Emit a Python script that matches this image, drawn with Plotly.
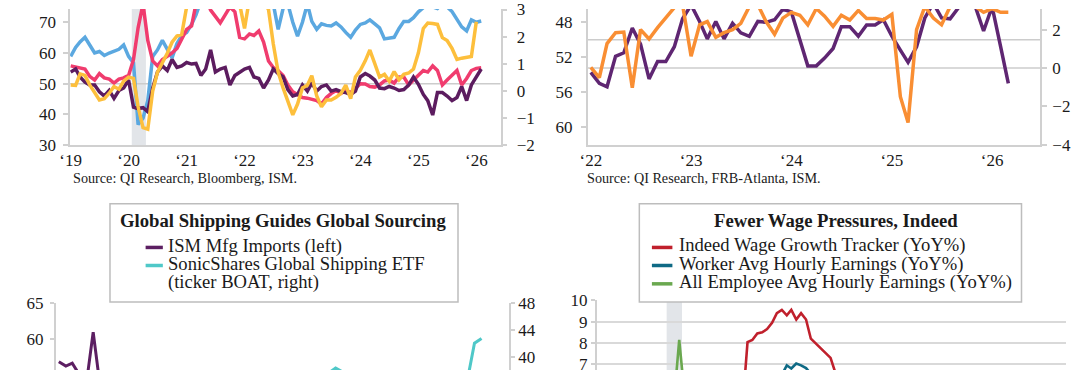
import plotly.graph_objects as go
import pandas as pd

W, H = 1080, 380
FONT = "Liberation Serif"
AX = "#d0d0d0"
TXT = "#1a1a1a"

# ---------------- data ----------------
# Top-left panel (monthly, Jan 2019 - Feb 2026)
tl_months = pd.date_range("2019-01-01", periods=86, freq="MS")
tl_purple = [53.8, 54.8, 52.2, 50.5, 49.6, 49.6, 47.4, 46.0, 47.8, 45.2, 47.8, 48.6,
             51.2, 42.4, 41.9, 42.2, 40.9, 48.6, 53.8, 55.8, 54.3, 57.9, 55.3, 55.8,
             56.9, 56.4, 56.6, 52.7, 54.8, 61.0, 53.8, 54.8, 55.3, 49.6, 52.7, 53.8,
             54.8, 55.3, 52.2, 51.7, 48.6, 51.2, 54.8, 53.3, 52.2, 48.1, 46.0, 46.5,
             49.6, 47.6, 50.2, 47.6, 49.1, 49.6, 47.6, 48.1, 47.4, 47.1, 46.5, 47.6,
             52.2, 53.3, 52.5, 51.2, 48.6, 48.4, 49.1, 48.6, 47.8, 48.1, 49.6, 52.2,
             49.8, 46.5, 44.5, 39.8, 47.1, 47.1, 46.0, 44.5, 45.5, 49.1, 44.5, 49.6,
             52.2, 54.8]
tl_pink = [55.8, 55.5, 55.3, 54.8, 52.4, 51.2, 53.3, 51.9, 51.5, 50.2, 51.5, 51.9,
           52.7, 57.9, 68.2, 76.0, 64.1, 57.4, 55.8, 57.9, 58.9, 60.0, 61.5, 64.6,
           67.7, 68.8, 76.0, 76.5, 78.0, 74.0, 72.0, 69.8, 72.4, 75.0, 73.4, 65.1,
           64.6, 66.2, 65.7, 67.2, 63.6, 57.4, 55.3, 54.3, 52.7, 49.6, 47.4, 46.3,
           45.5, 45.3, 45.0, 44.5, 43.4, 45.5, 46.8, 47.8, 46.8, 47.8, 47.1, 48.6,
           50.0, 49.9, 49.1, 48.9, 49.6, 50.9, 51.2, 50.2, 52.2, 52.2, 49.6, 51.2,
           52.7, 54.3, 53.8, 55.8, 54.3, 49.6, 51.2, 52.7, 54.3, 49.6, 51.7, 54.3,
           55.0, 55.2]
tl_blue = [58.9, 61.8, 63.6, 65.1, 62.6, 60.0, 60.5, 59.2, 60.0, 60.5, 61.2, 62.6,
           58.9, 56.8, 36.7, 38.8, 44.5, 58.9, 61.0, 64.1, 61.0, 58.4, 63.1, 65.7,
           66.7, 69.3, 72.4, 77.0, 79.0, 80.0, 82.0, 81.0, 80.0, 82.0, 81.0, 79.0,
           80.0, 82.0, 80.0, 79.0, 78.0, 78.0, 76.0, 67.7, 74.5, 76.0, 70.0, 65.5,
           70.0, 76.0, 70.3, 67.7, 69.5, 69.0, 68.8, 69.8, 68.5, 66.7, 65.1, 67.5,
           69.3, 69.8, 70.8, 69.5, 68.2, 64.6, 64.8, 65.1, 68.0, 70.3, 70.3, 71.5,
           73.4, 75.0, 76.0, 75.0, 74.5, 76.0, 75.0, 73.5, 71.0, 68.5, 67.2, 70.8,
           70.0, 70.4]
tl_yellow = [0.21, 0.19, 0.62, 0.56, 0.21, -0.05, -0.35, -0.3, -0.1, 0.15, 0.05, 0.35,
             0.5, 0.45, -0.6, -1.37, -1.43, -0.02, 0.68, 1.03, 1.38, 1.79, 2.02, 2.08,
             3.1, 3.5, 3.8, 4.0, 3.6, 3.9, 4.2, 3.7, 3.4, 3.8, 3.5, 3.2,
             2.3, 3.4, 3.6, 3.9, 3.3, 3.0, 1.73, 0.68, 0.1, -0.35, -0.9, -0.5,
             0.1, 0.2, 0.55, -0.2, -0.6, -0.35, -0.35, -0.25, -0.1, 0.2, -0.3, 0.5,
             0.75, 1.1, 1.5, 1.0, 0.5, 0.6, 0.35, 0.7, 0.4, 0.6, 0.65, 0.8,
             1.4, 2.3, 2.5, 2.48, 2.45, 1.96, 1.85, 1.56, 1.15, 1.2, 1.22, 1.26,
             2.55, None]
tl_years = [2019, 2020, 2021, 2022, 2023, 2024, 2025, 2026]
tl_ticktext = ["\u201819", "\u201820", "\u201821", "\u201822", "\u201823", "\u201824", "\u201825", "\u201826"]

# Top-right panel (monthly, Jan 2022 - Mar 2026)
tr_months = pd.date_range("2022-01-01", periods=51, freq="MS")
tr_purple = [53.75, 55.0, 55.4, 51.9, 51.5, 48.65, 50.5, 54.5, 52.5, 52.5, 50.8, 47.6,
             46.0, 47.9, 49.9, 47.9, 49.9, 48.1, 49.2, 49.6, 47.9, 48.0, 47.7, 46.5,
             46.8, 50.1, 53.0, 53.0, 52.1, 51.0, 48.5, 48.5, 49.6, 48.3, 48.3, 47.7,
             49.6, 51.2, 52.6, 50.8, 47.5, 45.8, 47.5, 47.6, 46.3, 45.5, 46.2, 49.0,
             46.2, 50.8, 55.0]
tr_orange = [0.03, -0.5, 1.27, 1.84, 1.87, -1.04, 2.0, 1.51, 2.1, 2.6, 3.15, 3.3,
             0.61, 2.25, 2.42, 1.6, 1.84, 2.0, 2.33, 3.2, 3.3, 2.42, 1.76, 2.6,
             2.9, 2.75, 2.25, 3.1, 2.7, 2.17, 2.75, 2.5, 3.0, 2.58, 2.58, 2.5,
             2.8, -1.5, -2.85, 2.0, 3.2, 2.6, 2.25, 3.2, 3.4, 3.3, 3.2, 2.9,
             3.1, 2.9, 2.9]
tr_years = [2022, 2023, 2024, 2025, 2026]
tr_ticktext = ["\u201822", "\u201823", "\u201824", "\u201825", "\u201826"]

# Bottom-left panel (only the visible top of the chart)
bl_months = pd.date_range("2019-01-01", periods=62, freq="MS")
bl_imports = [56.8, 56.2, 56.6, 55.0, 53.5, 60.9, 53.5, 52.5] + [None] * 54
bl_boat = [None] * 38 + [36.8, 37.6, 38.3, 37.7, 36.8] + [None] * 16 + [36.5, 42.0, 42.7]

# Bottom-right panel (only the visible top of the chart)
br_green_months = pd.date_range("2020-03-01", periods=3, freq="MS")
br_green = [5.4, 8.14, 5.8]
br_red_months = pd.date_range("2021-05-01", periods=20, freq="MS")
br_red = [5.0, 8.04, 8.14, 8.45, 8.5, 8.65, 8.95, 9.4, 9.55, 9.3, 9.55, 9.1,
          9.4, 9.1, 8.2, 7.97, 7.75, 7.5, 7.3, 6.6]
br_teal_months = pd.date_range("2022-01-01", periods=7, freq="MS")
br_teal = [6.5, 6.95, 6.8, 7.03, 6.95, 6.82, 6.55]

# ---------------- helpers ----------------
def px(x):
    return x / W

def py(y):
    return 1 - y / H

def date_at(pixel, px_anchor, anchor, px_per_month):
    months = (pixel - px_anchor) / px_per_month
    return (pd.Timestamp(anchor) + pd.Timedelta(days=months * 30.4375)).strftime("%Y-%m-%d %H:%M")

fig = go.Figure()

def line(x, y, color, width, xa, ya):
    fig.add_trace(go.Scatter(x=x, y=y, mode="lines", xaxis=xa, yaxis=ya,
                             line=dict(color=color, width=width),
                             showlegend=False, hoverinfo="skip", connectgaps=False))

# Top-left
line(tl_months, tl_blue, "#5ba8e0", 3.5, "x", "y")
line(tl_months, tl_yellow, "#fdbf3c", 3.5, "x", "y2")
line(tl_months, tl_pink, "#f03c6e", 3.5, "x", "y")
line(tl_months, tl_purple, "#5c1c5f", 3.5, "x", "y")
# Top-right
line(tr_months, tr_purple, "#5f2672", 3.5, "x2", "y3")
line(tr_months, tr_orange, "#f98e33", 3.5, "x2", "y4")
# Bottom-left
line(bl_months, bl_imports, "#5c1f62", 3.0, "x3", "y5")
line(bl_months, bl_boat, "#4fc8c8", 3.0, "x3", "y6")
# Bottom-right
line(br_green_months, br_green, "#6aa84f", 2.6, "x4", "y7")
line(br_red_months, br_red, "#c0202c", 2.6, "x4", "y7")
line(br_teal_months, br_teal, "#0f6a85", 2.6, "x4", "y7")

tickfont = dict(family=FONT, size=17, color=TXT)

def yax(**kw):
    d = dict(showgrid=False, zeroline=False, showline=True, linecolor=AX, linewidth=1.5,
             ticks="outside", ticklen=5, tickcolor=AX, tickwidth=1.5, tickfont=tickfont,
             fixedrange=True)
    d.update(kw)
    return d

def xax(**kw):
    d = dict(type="date", showgrid=False, zeroline=False, fixedrange=True, tickfont=tickfont)
    d.update(kw)
    return d

# anchors: (pixel of anchor month, anchor month, pixels per month)
TL = (60.3, "2019-01-01", 4.878)
TR = (585.8, "2022-01-01", 8.446)
BL = (48.3, "2019-01-01", 7.0)
BR = (675.1, "2020-04-01", 4.93)

TLX = (59.7, 494.6)
TRX = (582.7, 1039.8)
BLX = (45.0, 503.3)
BRX = (591.7, 1065.7)

fig.update_layout(
    width=W, height=H, margin=dict(l=0, r=0, t=0, b=0),
    paper_bgcolor="white", plot_bgcolor="rgba(0,0,0,0)",
    font=dict(family=FONT, color=TXT),
    xaxis=xax(domain=[px(TLX[0]), px(TLX[1])], anchor="y",
              range=[date_at(TLX[0], *TL), date_at(TLX[1], *TL)],
              tickvals=[f"{y}-01-01" for y in tl_years], ticktext=tl_ticktext,
              showline=True, linecolor=AX, linewidth=1.5, ticks="", ticklabelstandoff=-1),
    yaxis=yax(domain=[py(143.3), 1], anchor="x", range=[30, 74.33],
              tickvals=[30, 40, 50, 60, 70], ticklabelstandoff=4),
    yaxis2=yax(overlaying="y", side="right", anchor="x", range=[-2.02, 3.02],
               tickvals=[-2, -1, 0, 1, 2, 3], ticklabelstandoff=6),
    xaxis2=xax(domain=[px(TRX[0]), px(TRX[1])], anchor="y3",
               range=[date_at(TRX[0], *TR), date_at(TRX[1], *TR)],
               tickvals=[f"{y}-01-01" for y in tr_years], ticktext=tr_ticktext,
               showline=True, linecolor=AX, linewidth=1.5, ticks="", ticklabelstandoff=-1),
    yaxis3=yax(domain=[py(143.3), 1], anchor="x2", range=[62.1, 46.47],
               tickvals=[48, 52, 56, 60], ticklabelstandoff=5),
    yaxis4=yax(overlaying="y3", side="right", anchor="x2", range=[-4.03, 3.076],
               tickvals=[-4, -2, 0, 2], ticklabelstandoff=2),
    xaxis3=xax(domain=[px(BLX[0]), px(BLX[1])], anchor="y5",
               range=[date_at(BLX[0], *BL), date_at(BLX[1], *BL)],
               showline=False, showticklabels=False, ticks=""),
    yaxis5=yax(domain=[0, py(309)], anchor="x3", range=[55.66, 65],
               tickvals=[55, 60, 65], ticklabelstandoff=3, ticklen=4),
    yaxis6=yax(overlaying="y5", side="right", anchor="x3", range=[38.0, 48.07],
               tickvals=[40, 44, 48], ticklabelstandoff=0, ticklen=4),
    xaxis4=xax(domain=[px(BRX[0]), px(BRX[1])], anchor="y7",
               range=[date_at(BRX[0], *BR), date_at(BRX[1], *BR)],
               showline=False, showticklabels=False, ticks=""),
    yaxis7=yax(domain=[0, py(306.7)], anchor="x4", range=[6.73, 10],
               tickvals=[7, 8, 9, 10], showgrid=True, gridcolor="#d9d9d9", gridwidth=1.5,
               ticklen=4, ticklabelstandoff=0),
)

shapes = []
# recession shading
shapes.append(dict(type="rect", xref="x", yref="y domain", x0=date_at(122, *TL), x1=date_at(136.3, *TL),
                   y0=0, y1=1, fillcolor="#e2e5e9", line=dict(width=0), layer="below"))
shapes.append(dict(type="rect", xref="x4", yref="y7 domain", x0=date_at(662.4, *BR), x1=date_at(677.9, *BR),
                   y0=0, y1=1, fillcolor="#e2e5e9", line=dict(width=0), layer="below"))
# reference lines
shapes.append(dict(type="line", xref="x domain", yref="y", x0=0, x1=1, y0=50, y1=50,
                   line=dict(color="#cccccc", width=1.5), layer="below"))
shapes.append(dict(type="line", xref="x2 domain", yref="y3", x0=0, x1=1, y0=50, y1=50,
                   line=dict(color="#cccccc", width=1.5), layer="below"))
shapes.append(dict(type="line", xref="x2 domain", yref="y4", x0=0, x1=1, y0=0, y1=0,
                   line=dict(color="#cccccc", width=1.5), layer="below"))
# legend boxes
for (x0, x1) in [(100, 451.6), (634.8, 1020.9)]:
    shapes.append(dict(type="rect", xref="paper", yref="paper", x0=px(x0), x1=px(x1),
                       y0=py(308.5), y1=py(205), fillcolor="white",
                       line=dict(color="#bdbdbd", width=1.5), layer="above"))

ITEM = dict(family=FONT, size=18.6, color=TXT)
TITLE = dict(family=FONT, size=18.7, color=TXT)
# (text, colour, y of the sample line, y of the text centre)
legend_items_bl = [("ISM Mfg Imports (left)", "#5c1f62", 251, 249.7),
                   ("SonicShares Global Shipping ETF", "#4fc8c8", 270, 268.4)]
legend_items_br = [("Indeed Wage Growth Tracker (YoY%)", "#c0202c", 251, 248.3),
                   ("Worker Avg Hourly Earnings (YoY%)", "#0f6a85", 270, 268.0),
                   ("All Employee Avg Hourly Earnings (YoY%)", "#6aa84f", 289.3, 287.8)]
annotations = []

def note(text, x, y, font, xanchor="left"):
    annotations.append(dict(text=text, x=px(x), y=py(y), xref="paper", yref="paper",
                            xanchor=xanchor, yanchor="middle", showarrow=False, font=font))

for text, color, yl, yt in legend_items_bl:
    shapes.append(dict(type="line", xref="paper", yref="paper", x0=px(136), x1=px(153.4),
                       y0=py(yl), y1=py(yl), line=dict(color=color, width=3.5), layer="above"))
    note(text, 157, yt, ITEM)
note("(ticker BOAT, right)", 157, 287.5, ITEM)
for text, color, yl, yt in legend_items_br:
    shapes.append(dict(type="line", xref="paper", yref="paper", x0=px(647.5), x1=px(668.2),
                       y0=py(yl), y1=py(yl), line=dict(color=color, width=3.5), layer="above"))
    note(text, 672.7, yt, ITEM)
note("<b>Global Shipping Guides Global Sourcing</b>", 274.9, 222.8, TITLE, "center")
note("<b>Fewer Wage Pressures, Indeed</b>", 833, 222.8, TITLE, "center")
note("Source: QI Research, Bloomberg, ISM.", 60.3, 177.5, dict(family=FONT, size=14.2, color=TXT))
note("Source: QI Research, FRB-Atlanta, ISM.", 579.6, 177.5, dict(family=FONT, size=14.2, color=TXT))

fig.update_layout(shapes=shapes, annotations=annotations)
fig.write_html("out.html", config={"displayModeBar": False},
               post_script="document.body.style.margin='0';document.body.style.padding='0';document.body.style.overflow='hidden';")
